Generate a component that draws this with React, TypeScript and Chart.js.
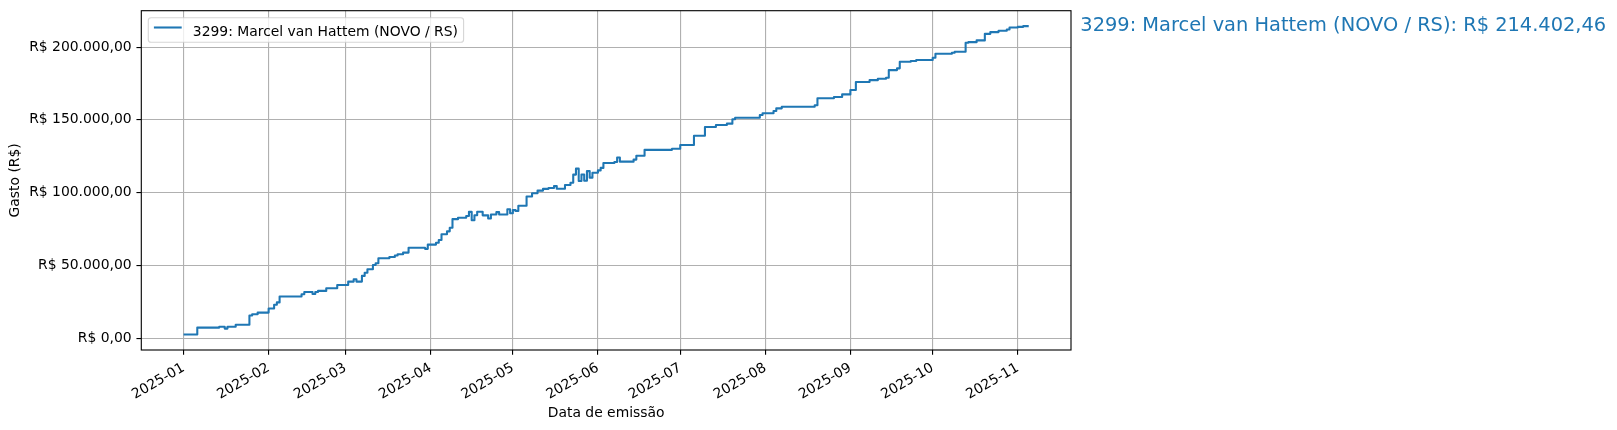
import React, { useEffect, useRef } from "react";
import { Chart, registerables } from "chart.js";

Chart.register(...registerables);

// ---- data ----
const seriesLabel = "3299: Marcel van Hattem (NOVO / RS)";
const xAxisTitle = "Data de emissão";
const yAxisTitle = "Gasto (R$)";

const monthTickLabels = [
  "2025-01", "2025-02", "2025-03", "2025-04", "2025-05", "2025-06",
  "2025-07", "2025-08", "2025-09", "2025-10", "2025-11",
];

const yTickValues = [0, 50000, 100000, 150000, 200000];

const emissionDates = [
  "2025-01-01", "2025-01-06", "2025-01-14", "2025-01-16", "2025-01-17", "2025-01-20",
  "2025-01-25", "2025-01-26", "2025-01-28", "2025-02-01", "2025-02-03", "2025-02-04",
  "2025-02-05", "2025-02-13", "2025-02-14", "2025-02-17", "2025-02-18", "2025-02-19",
  "2025-02-22", "2025-02-26", "2025-03-02", "2025-03-04", "2025-03-05", "2025-03-07",
  "2025-03-08", "2025-03-09", "2025-03-11", "2025-03-12", "2025-03-13", "2025-03-17",
  "2025-03-19", "2025-03-20", "2025-03-22", "2025-03-24", "2025-03-30", "2025-03-31",
  "2025-04-03", "2025-04-04", "2025-04-05", "2025-04-07", "2025-04-08", "2025-04-09",
  "2025-04-11", "2025-04-14", "2025-04-15", "2025-04-16", "2025-04-17", "2025-04-18",
  "2025-04-20", "2025-04-22", "2025-04-23", "2025-04-25", "2025-04-26", "2025-04-29",
  "2025-04-30", "2025-05-01", "2025-05-02", "2025-05-03", "2025-05-06", "2025-05-08",
  "2025-05-10", "2025-05-12", "2025-05-14", "2025-05-16", "2025-05-17", "2025-05-20",
  "2025-05-22", "2025-05-23", "2025-05-24", "2025-05-25", "2025-05-26", "2025-05-27",
  "2025-05-28", "2025-05-29", "2025-05-30", "2025-06-01", "2025-06-02", "2025-06-03",
  "2025-06-07", "2025-06-08", "2025-06-09", "2025-06-14", "2025-06-15", "2025-06-18",
  "2025-06-28", "2025-07-01", "2025-07-06", "2025-07-10", "2025-07-14", "2025-07-18",
  "2025-07-20", "2025-07-21", "2025-07-30", "2025-07-31", "2025-08-04", "2025-08-05",
  "2025-08-07", "2025-08-19", "2025-08-20", "2025-08-26", "2025-08-29", "2025-09-01",
  "2025-09-03", "2025-09-08", "2025-09-11", "2025-09-14", "2025-09-15", "2025-09-18",
  "2025-09-19", "2025-09-23", "2025-09-25", "2025-10-01", "2025-10-02", "2025-10-08",
  "2025-10-09", "2025-10-13", "2025-10-14", "2025-10-17", "2025-10-20", "2025-10-22",
  "2025-10-25", "2025-10-28", "2025-10-29", "2025-11-01", "2025-11-03", "2025-11-05",
];

const cumulativeSpend = [
  2500, 7300, 7900, 6600, 7900, 9200,
  15600, 16500, 17600, 20400, 23000, 24600,
  28600, 30200, 31800, 30400, 31800, 32500,
  34300, 36600, 38900, 40500, 38900, 42800,
  45000, 47400, 50300, 51500, 54900, 55800,
  56800, 57700, 58800, 62200, 61400, 64300,
  65600, 67500, 71400, 73400, 75900, 81800,
  82800, 84000, 86800, 81000, 84500, 86900,
  84400, 82200, 85000, 86600, 85000, 88600,
  85800, 88000, 87400, 91000, 97300, 99600,
  101400, 102600, 103200, 104500, 102700, 105300,
  106800, 112400, 116500, 108000, 112500, 108200,
  114800, 110300, 113700, 115300, 117000, 120400,
  121000, 124200, 121300, 122700, 125300, 129400,
  130200, 132700, 139100, 145100, 146500, 147400,
  150400, 151500, 153300, 154500, 156100, 157900,
  159000, 160000, 164800, 165700, 167500, 170500,
  176000, 177300, 178200, 178900, 184200, 185400,
  189900, 190400, 191100, 192700, 195400, 196100,
  196800, 203000, 203400, 204600, 209100, 210300,
  211200, 212100, 213500, 213900, 214402.46, 214402.46,
];

// ---- helpers ----
const ORIGIN = Date.UTC(2025, 0, 1);
function dayOf(s: string): number {
  const [y, m, d] = s.split("-").map(Number);
  return (Date.UTC(y, m - 1, d || 1) - ORIGIN) / 86400000;
}
function formatBRL(v: number): string {
  const neg = v < 0;
  const fixed = Math.abs(v).toFixed(2);
  const [ip, dp] = fixed.split(".");
  const withDots = ip.replace(/\B(?=(\d{3})+(?!\d))/g, ".");
  return (neg ? "-" : "") + "R$ " + withDots + "," + dp;
}

const FONT = "'DejaVu Sans', 'Liberation Sans', sans-serif";
const BLUE = "#1f77b4";
const FS = 13.9;

export default function App() {
  const canvasRef = useRef<HTMLCanvasElement | null>(null);

  useEffect(() => {
    const canvas = canvasRef.current;
    if (!canvas) return;

    const points = emissionDates.map((d, i) => ({ x: dayOf(d), y: cumulativeSpend[i] }));
    const xs = points.map((p) => p.x);
    const ys = points.map((p) => p.y);
    const xMin = Math.min(...xs), xMax = Math.max(...xs);
    const yMin = Math.min(...ys), yMax = Math.max(...ys);
    const xPad = (xMax - xMin) * 0.05;
    const yPad = (yMax - yMin) * 0.05;
    const monthTickDays = monthTickLabels.map((l) => dayOf(l + "-01"));
    const lastValue = cumulativeSpend[cumulativeSpend.length - 1];

    const overlay = {
      id: "overlay",
      afterDatasetsDraw(chart: any) {
        const { ctx, chartArea: a } = chart;
        ctx.save();
        ctx.strokeStyle = "#000";
        ctx.lineWidth = 1.11;
        ctx.strokeRect(a.left, a.top, a.right - a.left, a.bottom - a.top);
        ctx.restore();
      },
      afterDraw(chart: any) {
        const { ctx, chartArea: a } = chart;
        ctx.save();
        // legend
        ctx.font = `${FS}px ${FONT}`;
        const tw = ctx.measureText(seriesLabel).width;
        const bx = a.left + 7;
        const by = a.top + 7;
        const bw = 5.6 + 27.8 + 11.1 + tw + 5.6;
        const bh = 24.6;
        const r = 2.8;
        ctx.beginPath();
        ctx.moveTo(bx + r, by);
        ctx.lineTo(bx + bw - r, by);
        ctx.arcTo(bx + bw, by, bx + bw, by + r, r);
        ctx.lineTo(bx + bw, by + bh - r);
        ctx.arcTo(bx + bw, by + bh, bx + bw - r, by + bh, r);
        ctx.lineTo(bx + r, by + bh);
        ctx.arcTo(bx, by + bh, bx, by + bh - r, r);
        ctx.lineTo(bx, by + r);
        ctx.arcTo(bx, by, bx + r, by, r);
        ctx.closePath();
        ctx.fillStyle = "rgba(255,255,255,0.8)";
        ctx.fill();
        ctx.strokeStyle = "rgba(204,204,204,0.8)";
        ctx.lineWidth = 1.11;
        ctx.stroke();
        ctx.beginPath();
        ctx.moveTo(bx + 5.6, by + 9.8);
        ctx.lineTo(bx + 5.6 + 27.8, by + 9.8);
        ctx.strokeStyle = BLUE;
        ctx.lineWidth = 2.08;
        ctx.stroke();
        ctx.fillStyle = "#000";
        ctx.textBaseline = "alphabetic";
        ctx.textAlign = "left";
        ctx.fillText(seriesLabel, bx + 5.6 + 27.8 + 11.1, by + 18.6);
        // end annotation
        const yPix = chart.scales.y.getPixelForValue(lastValue);
        ctx.font = `${19.4}px ${FONT}`;
        ctx.fillStyle = BLUE;
        ctx.textBaseline = "middle";
        ctx.fillText(`${seriesLabel}: ${formatBRL(lastValue)}`, a.right + 0.01 * (a.right - a.left), yPix);
        ctx.restore();
      },
    };

    const chart = new Chart(canvas, {
      type: "line",
      data: {
        datasets: [
          {
            label: seriesLabel,
            data: points,
            borderColor: BLUE,
            borderWidth: 2.08,
            pointRadius: 0,
            stepped: "before",
            fill: false,
            borderJoinStyle: "round",
            borderCapStyle: "butt",
          } as any,
        ],
      },
      options: {
        animation: false,
        responsive: false,
        parsing: false as any,
        layout: { padding: { left: 0, right: 546, top: 10.7, bottom: 0 } },
        plugins: { legend: { display: false }, tooltip: { enabled: false } },
        scales: {
          x: {
            type: "linear",
            min: xMin - xPad,
            max: xMax + xPad,
            afterBuildTicks: (s: any) => {
              s.ticks = monthTickDays.map((v) => ({ value: v }));
            },
            afterFit: (s: any) => {
              s.height = 80;
              s.paddingLeft = 0;
              s.paddingRight = 0;
              s.paddingTop = 0;
              s.paddingBottom = 0;
            },
            grid: {
              color: "#b0b0b0",
              lineWidth: 1.11,
              tickColor: "#000",
              tickLength: 4.86,
              tickWidth: 1.11,
            },
            border: { display: false },
            ticks: {
              autoSkip: false,
              minRotation: 30,
              maxRotation: 30,
              padding: 4.86,
              color: "#000",
              font: { size: FS, family: FONT },
              callback: (v: any) => {
                const i = monthTickDays.indexOf(Number(v));
                return i >= 0 ? monthTickLabels[i] : "";
              },
            },
            title: {
              display: true,
              text: xAxisTitle,
              color: "#000",
              font: { size: FS, family: FONT },
              padding: { top: 0, bottom: 8.4 },
            },
          },
          y: {
            type: "linear",
            min: yMin - yPad,
            max: yMax + yPad,
            afterBuildTicks: (s: any) => {
              s.ticks = yTickValues.map((v) => ({ value: v }));
            },
            afterFit: (s: any) => {
              s.width = 141.3;
              s.paddingLeft = 0;
              s.paddingRight = 0;
              s.paddingTop = 0;
              s.paddingBottom = 0;
            },
            grid: {
              color: "#b0b0b0",
              lineWidth: 1.11,
              tickColor: "#000",
              tickLength: 4.86,
              tickWidth: 1.11,
            },
            border: { display: false },
            ticks: {
              padding: 4.86,
              color: "#000",
              font: { size: FS, family: FONT },
              callback: (v: any) => formatBRL(Number(v)),
            },
            title: {
              display: true,
              text: yAxisTitle,
              color: "#000",
              font: { size: FS, family: FONT },
              padding: { top: 7.4, bottom: 0 },
            },
          },
        },
      },
      plugins: [overlay],
    });

    return () => chart.destroy();
  }, []);

  return (
    <div style={{ position: "absolute", left: 0, top: 0, width: 1617, height: 430, background: "#fff" }}>
      <canvas ref={canvasRef} width={1617} height={430} style={{ display: "block", width: 1617, height: 430 }} />
    </div>
  );
}
